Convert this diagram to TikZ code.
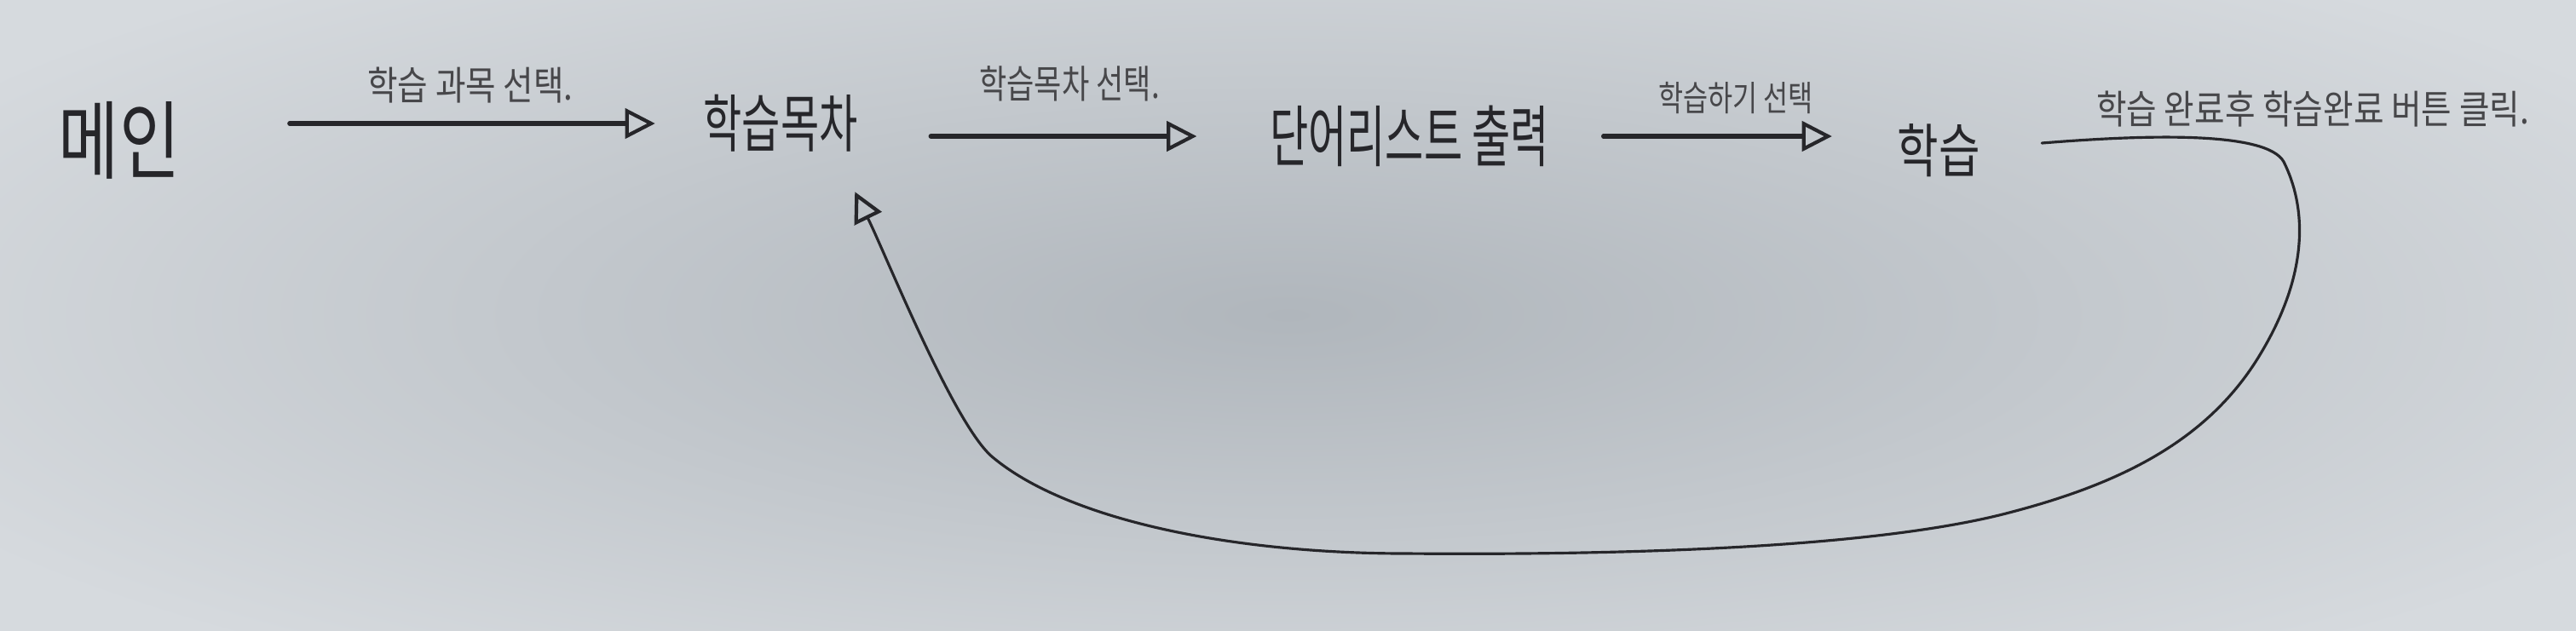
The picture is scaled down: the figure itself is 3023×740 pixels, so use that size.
\documentclass[tikz,border=0pt]{standalone}
\usepackage{fontspec}
\usepackage{graphicx}
\setmainfont{Noto Sans CJK KR}
\usetikzlibrary{arrows.meta}
\definecolor{bgmid}{RGB}{176,182,188}
\definecolor{bgedge}{RGB}{214,218,222}
\definecolor{ink}{RGB}{38,38,42}
\newcommand{\tall}[2]{\scalebox{1}[#1]{#2}}
\begin{document}
\begin{tikzpicture}[x=0.1mm,y=-0.1mm,
  screen/.style={text=ink, inner sep=0pt},
  act/.style={text=ink!85, inner sep=0pt, font=\fontsize{11}{11}\selectfont},
  flow/.style={draw=ink, line width=1.5pt, line cap=round,
    -{Triangle[open, length=10pt, width=10pt, line width=1.2pt]}},
  back/.style={draw=ink, line width=0.9pt, line cap=round,
    -{Triangle[open, length=10pt, width=10pt, line width=1.2pt]}}]
\useasboundingbox (0,0) rectangle (3023,740);
\shade[inner color=bgmid, outer color=bgedge] (-300,-150) rectangle (3323,890);
\node[screen, font=\fontsize{22}{22}\selectfont] (main) at (140,165) {\tall{1.3}{메인}};
\node[screen, font=\fontsize{14}{14}\selectfont] (toc) at (916,145) {\tall{1.5}{학습목차}};
\node[screen, font=\fontsize{14}{14}\selectfont] (words) at (1654,160) {\tall{1.6}{단어리스트 출력}};
\node[screen, font=\fontsize{15}{15}\selectfont] (learn) at (2275,177) {\tall{1.3}{학습}};
\draw[flow] ([xshift=12.8mm]main.east |- toc.west) -- ([xshift=-5.6mm]toc.west);
\draw[flow] ([xshift=8.5mm]toc.east |- words.west) -- ([xshift=-8.5mm]words.west);
\draw[flow] ([xshift=6.3mm]words.east) -- ([xshift=-7.6mm]learn.west |- words.east);
\node[act] (l1) at (552,100) {\tall{1.2}{학습 과목 선택.}};
\node[act, font=\fontsize{10}{10}\selectfont] (l2) at (1255,98) {\tall{1.3}{학습목차 선택.}};
\node[act, font=\fontsize{9}{9}\selectfont] (l3) at (2037,115) {\tall{1.3}{학습하기 선택}};
\node[act] (l4) at (2714,128) {\tall{1.2}{학습 완료후 학습완료 버튼 클릭.}};
\coordinate (rs) at ([shift={(72,-9)}]learn.east);
\coordinate (ra) at (2680,190);
\coordinate (rb) at (2650,420);
\coordinate (rc) at (2350,604);
\coordinate (rd) at (1650,650);
\coordinate (rf) at (1165,537);
\coordinate (re) at ([shift={(-4,46)}]toc.south east);
\draw[back] (rs) .. controls (2520,158) and (2660,154) .. (ra)
  .. controls (2705,240) and (2713,318) .. (rb)
  .. controls (2587,522) and (2480,571) .. (rc)
  .. controls (2190,644) and (1900,652) .. (rd)
  .. controls (1450,650) and (1255,612) .. (rf)
  .. controls (1120,500) and (1040,300) .. (re);
\end{tikzpicture}
\end{document}
